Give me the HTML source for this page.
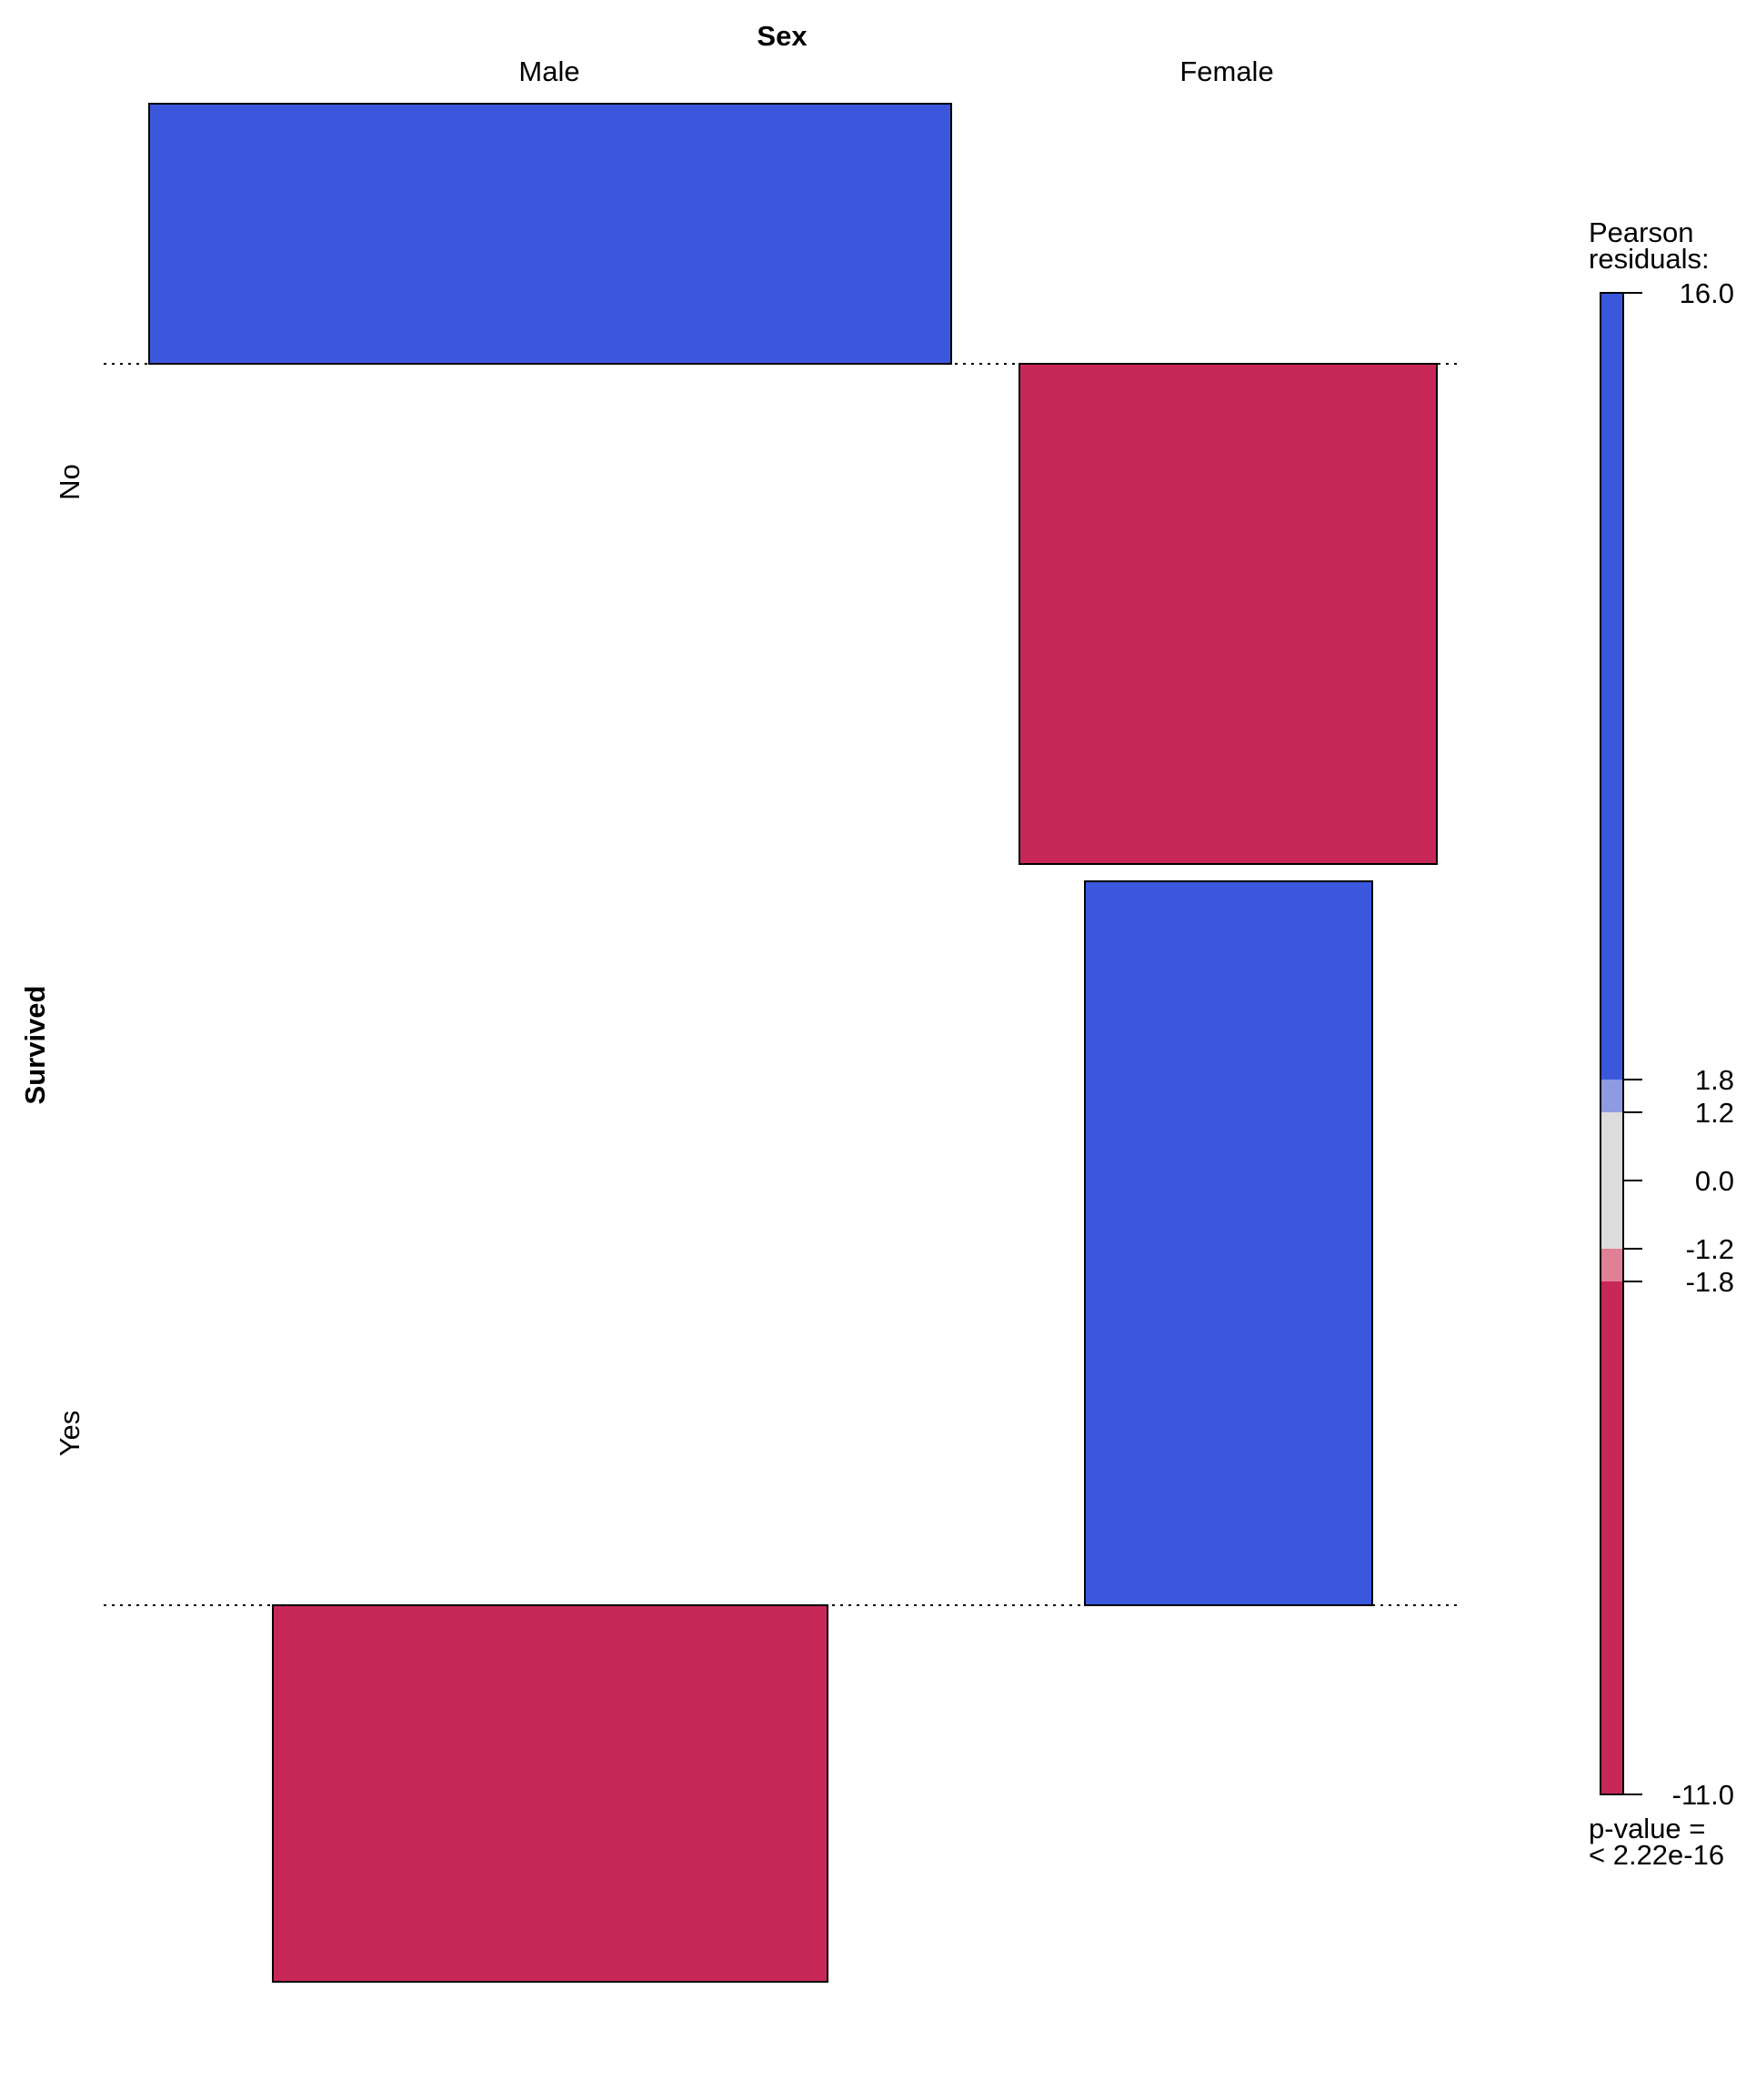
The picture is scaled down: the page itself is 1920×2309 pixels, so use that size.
<!DOCTYPE html>
<html><head><meta charset="utf-8"><style>body{margin:0;background:#fff}</style></head><body>
<svg width="1920" height="2304" xmlns="http://www.w3.org/2000/svg" font-family="Liberation Sans, Arial, sans-serif" font-size="31">
<rect width="1920" height="2304" fill="#fff"/>
<line x1="114" y1="400" x2="1608" y2="400" stroke="#000" stroke-width="2" stroke-dasharray="3,6"/>
<line x1="114" y1="1765" x2="1608" y2="1765" stroke="#000" stroke-width="2" stroke-dasharray="3,6"/>
<rect x="164" y="114" width="882" height="286" fill="#3B58DD" stroke="#000" stroke-width="2"/>
<rect x="1121" y="400" width="459" height="550" fill="#C82858" stroke="#000" stroke-width="2"/>
<rect x="1193" y="969" width="316" height="796" fill="#3B58DD" stroke="#000" stroke-width="2"/>
<rect x="300" y="1765" width="610" height="414" fill="#C82858" stroke="#000" stroke-width="2"/>
<text x="860" y="50" text-anchor="middle" font-weight="bold">Sex</text>
<text x="604" y="89" text-anchor="middle">Male</text>
<text x="1349" y="89" text-anchor="middle">Female</text>
<text transform="translate(87,530) rotate(-90)" text-anchor="middle">No</text>
<text transform="translate(87,1576) rotate(-90)" text-anchor="middle">Yes</text>
<text transform="translate(49,1149) rotate(-90)" text-anchor="middle" font-weight="bold">Survived</text>
<rect x="1760" y="322" width="25" height="865" fill="#3B58DD"/>
<rect x="1760" y="1187" width="25" height="36" fill="#8E9BE3"/>
<rect x="1760" y="1223" width="25" height="150" fill="#DCDCDC"/>
<rect x="1760" y="1373" width="25" height="36" fill="#E08095"/>
<rect x="1760" y="1409" width="25" height="564" fill="#C82858"/>
<rect x="1760" y="322" width="25" height="1651" fill="none" stroke="#000" stroke-width="2"/>
<g stroke="#000" stroke-width="2">
<line x1="1785" y1="322" x2="1806" y2="322"/><line x1="1785" y1="1187" x2="1806" y2="1187"/>
<line x1="1785" y1="1223" x2="1806" y2="1223"/><line x1="1785" y1="1298" x2="1806" y2="1298"/>
<line x1="1785" y1="1373" x2="1806" y2="1373"/><line x1="1785" y1="1409" x2="1806" y2="1409"/>
<line x1="1785" y1="1973" x2="1806" y2="1973"/></g>
<g text-anchor="end">
<text x="1907" y="333">16.0</text><text x="1907" y="1198">1.8</text><text x="1907" y="1234">1.2</text>
<text x="1907" y="1309">0.0</text><text x="1907" y="1384">-1.2</text><text x="1907" y="1420">-1.8</text>
<text x="1907" y="1984">-11.0</text></g>
<text x="1747" y="266">Pearson</text><text x="1747" y="295">residuals:</text>
<text x="1747" y="2021">p-value =</text><text x="1747" y="2050">&lt; 2.22e-16</text>
</svg>
</body></html>
